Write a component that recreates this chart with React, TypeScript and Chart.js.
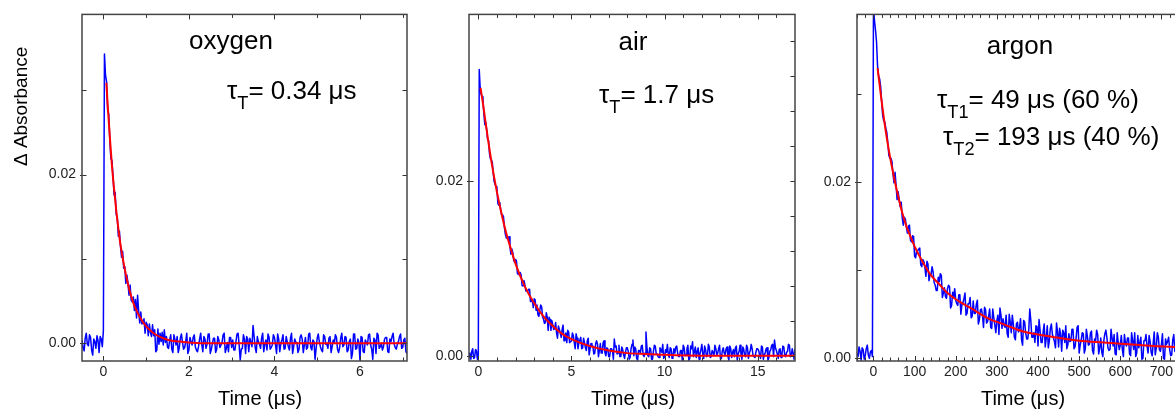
import React, { useEffect, useRef } from "react";
import { Chart, registerables } from "chart.js";

Chart.register(...registerables);

// ---------------- DATA ----------------
// Each transient is stored as samples on a grid (start + i*step) and the samples read halfway between them.

// Oxygen panel
const oxyTraceStart = -0.5;
const oxyTraceStep = 0.05;
const oxyTraceGrid = [
  0.0004, -0.0009, 0.0012, -0.0003, 0.0007, -0.0014, 0.0002, 0.0009, -0.0011, 0.0005, 0.0015,
  0.0318,
  0.0276, 0.0242, 0.0217, 0.0176, 0.0153, 0.0127, 0.0115, 0.0109, 0.0091, 0.0081,
  0.0057, 0.0051, 0.0055, 0.0052, 0.0057, 0.0024, 0.0023, 0.0029, 0.0025, 0.0009,
  0.0013, 0.0022, 0.0016, -0.0008, -0.0001, 0.0002, -0.0002, 0.0001, -0.0005,
  0.0004, -0.0007, 0.0010, -0.0002, -0.0011, 0.0006, 0.0001, -0.0005, 0.0012, -0.0008,
  0.0002, 0.0007, -0.0004, -0.0010, 0.0005, -0.0001, 0.0008, -0.0006, 0.0011, -0.0012,
  0.0000, 0.0006, -0.0007, 0.0004, -0.0002, 0.0010, -0.0011, 0.0001, 0.0007, -0.0005,
  -0.0008, 0.0002, 0.0012, -0.0020, -0.0006, 0.0005, 0.0008, -0.0010, 0.0001, 0.0021,
  -0.0005, 0.0008, -0.0001, 0.0006, -0.0010, 0.0004, 0.0011, -0.0007, -0.0002, 0.0007,
  -0.0012, 0.0005, 0.0000, 0.0010, -0.0006, 0.0002, -0.0008, 0.0012, -0.0004, 0.0001,
  -0.0011, 0.0007, 0.0005, -0.0002, -0.0007, 0.0011, -0.0005, 0.0004, -0.0019, 0.0006,
  0.0002, -0.0008, 0.0010, -0.0001, -0.0006, 0.0008, -0.0004, 0.0000, 0.0007, -0.0011,
  0.0006, -0.0004, 0.0008, -0.0010, 0.0002, -0.0018, 0.0011, -0.0007, 0.0005, -0.0020,
  0.0007, -0.0011, 0.0001, 0.0010, -0.0002, -0.0019, 0.0004, 0.0012, -0.0006, 0.0000,
  -0.0004, 0.0007, -0.0010, 0.0005, 0.0008, -0.0001, -0.0007, 0.0002, 0.0011, -0.0005,
  0.0006, -0.0012,
];
const oxyTraceHalf = [
  -0.0005, 0.0006, -0.0001, 0.0010, -0.0008, 0.0005, -0.0006, 0.0003, 0.0008, -0.0004,
  0.0343,
  0.0310, 0.0272, 0.0219, 0.0198, 0.0179, 0.0149, 0.0133, 0.0102, 0.0089, 0.0071,
  0.0071, 0.0069, 0.0049, 0.0039, 0.0030, 0.0038, 0.0037, 0.0024, 0.0012, 0.0022,
  0.0023, 0.0008, 0.0009, -0.0010, 0.0017, 0.0012, 0.0013, 0.0016, 0.0008,
  -0.0006, 0.0010, -0.0011, 0.0004, 0.0008, -0.0005, 0.0011, -0.0007, 0.0002, -0.0012,
  0.0007, -0.0002, 0.0010, -0.0008, -0.0004, 0.0012, -0.0010, 0.0005, -0.0001, 0.0011,
  -0.0007, 0.0006, -0.0011, 0.0008, -0.0005, 0.0001, 0.0012, -0.0006, -0.0010, 0.0007,
  0.0004, -0.0008, 0.0011, -0.0002, -0.0007, 0.0010, -0.0012, 0.0005, 0.0006, -0.0004,
  0.0008, -0.0011, 0.0002, -0.0006, 0.0012, -0.0001, -0.0008, 0.0007, -0.0005, 0.0010,
  -0.0002, 0.0011, -0.0010, 0.0004, -0.0007, 0.0008, -0.0004, 0.0006, -0.0012, 0.0005,
  0.0001, -0.0007, 0.0010, -0.0011, 0.0007, -0.0005, 0.0012, -0.0008, 0.0002, -0.0006,
  0.0011, -0.0004, -0.0010, 0.0008, -0.0001, 0.0006, -0.0011, 0.0004, 0.0010, -0.0007,
  -0.0005, 0.0012, -0.0002, 0.0007, -0.0008, 0.0005, -0.0012, 0.0011, -0.0006, 0.0001,
  0.0008, -0.0010, 0.0004, -0.0002, 0.0011, -0.0007, 0.0006, -0.0012, 0.0010, -0.0004,
  -0.0008, 0.0005, 0.0007, -0.0011, 0.0002, 0.0012, -0.0005, -0.0001, 0.0008, -0.0006,
  0.0004, -0.0010,
];
const oxyFitTime = [0.07, 0.1, 0.15, 0.2, 0.25, 0.3, 0.35, 0.4, 0.5, 0.6, 0.7, 0.8, 0.9, 1.0, 1.2, 1.4, 1.6, 1.8, 2.0, 2.5, 3, 4, 5, 6, 7.1];
const oxyFitValue = [0.0309, 0.0283, 0.0245, 0.0211, 0.0183, 0.0158, 0.0136, 0.0117, 0.0088, 0.0065, 0.0048, 0.0036, 0.0027, 0.0020, 0.0011, 0.0006, 0.0003, 0.0002, 0.0001, 0, 0, 0, 0, 0, 0];
const oxyXTickMarks = [0, 1, 2, 3, 4, 5, 6, 7];
const oxyXLabels = [0, 2, 4, 6];
const oxyYTickMarks = [0, 0.01, 0.02, 0.03];
const oxyYLabels = [0, 0.02];

// Air panel
const airTraceStart = -0.5;
const airTraceStep = 0.1;
const airTraceGrid = [
  0.0003, -0.0004, 0.0008, -0.0002, 0.0006, 0.0001,
  0.0306,
  0.0296, 0.0276, 0.0266, 0.0247, 0.0231, 0.0224, 0.0209, 0.0196, 0.0191, 0.0172,
  0.0167, 0.0161, 0.0147, 0.0135, 0.0134, 0.0124, 0.0122, 0.0109, 0.0110, 0.0094,
  0.0094, 0.0092, 0.0080, 0.0081, 0.0074, 0.0076, 0.0062, 0.0064, 0.0065, 0.0052,
  0.0047, 0.0052, 0.0056, 0.0042, 0.0038, 0.0044, 0.0044, 0.0029, 0.0035, 0.0031,
  0.0026, 0.0034, 0.0026, 0.0030, 0.0017, 0.0026, 0.0029, 0.0015, 0.0017, 0.0023,
  0.0008, 0.0020, 0.0015, 0.0021, 0.0009, 0.0015, 0.0006, 0.0020, 0.0008, 0.0011,
  0.0002, 0.0014, 0.0013, 0.0006, 0.0003, 0.0015, 0.0003, 0.0009, -0.0001,
  0.0008, 0.0006, 0.0019, 0.0011, 0.0003, -0.0001, 0.0010, 0.0001, 0.0004, 0.0009,
  -0.0004, 0.0008, 0.0018, 0.0010, -0.0003, 0.0006, 0.0003, 0.0012, -0.0001, 0.0027,
  0.0000, 0.0009, -0.0004, 0.0005, 0.0011, 0.0002, -0.0002, 0.0007, 0.0013, -0.0001,
  0.0004, 0.0001, 0.0009, -0.0003, 0.0008, 0.0010, 0.0003, -0.0001, 0.0006, 0.0012,
  0.0000, 0.0008, -0.0005, 0.0011, 0.0016, 0.0005, -0.0002, 0.0009, 0.0002, 0.0013,
  -0.0003, 0.0007, 0.0000, 0.0010, -0.0001, 0.0004, 0.0012, 0.0001, 0.0008, -0.0004,
  0.0006, 0.0003, 0.0008, -0.0001, 0.0011, -0.0002, 0.0007, 0.0009, -0.0005, 0.0005,
  0.0002, 0.0010, 0.0000, 0.0012, -0.0003, 0.0006, 0.0008, -0.0001, 0.0004, 0.0008,
  0.0001, 0.0011, -0.0004, 0.0003, 0.0009, -0.0002, 0.0007, 0.0013, 0.0018, 0.0006,
  -0.0003, 0.0008, 0.0002, 0.0010, -0.0001, 0.0005, 0.0012, 0.0000, 0.0003, 0.0008,
];
const airTraceHalf = [
  -0.0002, 0.0005, -0.0003, 0.0007, -0.0004,
  0.0327,
  0.0299, 0.0292, 0.0264, 0.0258, 0.0246, 0.0225, 0.0221, 0.0199, 0.0193, 0.0174,
  0.0175, 0.0161, 0.0159, 0.0139, 0.0134, 0.0136, 0.0116, 0.0118, 0.0107, 0.0108,
  0.0093, 0.0095, 0.0080, 0.0086, 0.0074, 0.0074, 0.0076, 0.0062, 0.0055, 0.0064,
  0.0058, 0.0045, 0.0058, 0.0044, 0.0037, 0.0049, 0.0029, 0.0041, 0.0040, 0.0030,
  0.0038, 0.0020, 0.0030, 0.0021, 0.0035, 0.0022, 0.0015, 0.0027, 0.0016, 0.0026,
  0.0015, 0.0025, 0.0008, 0.0018, 0.0008, 0.0020, 0.0009, 0.0017, 0.0001, 0.0014,
  0.0011, 0.0003, 0.0017, -0.0001, 0.0014, 0.0003, 0.0017, 0.0000, 0.0008,
  -0.0001, 0.0008, -0.0004, 0.0010, 0.0002, 0.0012, -0.0001, 0.0007, -0.0003, 0.0009,
  0.0005, -0.0002, 0.0013, 0.0000, 0.0008, -0.0005, 0.0006, 0.0011, 0.0001, 0.0003,
  0.0010, -0.0001, 0.0008, -0.0004, 0.0012, 0.0002, -0.0001, 0.0009, 0.0004, -0.0003,
  0.0007, 0.0013, -0.0002, 0.0008, 0.0000, 0.0003, 0.0011, -0.0001, 0.0006, -0.0005,
  0.0009, 0.0001, 0.0012, -0.0003, 0.0008, -0.0001, 0.0010, 0.0005, -0.0004, 0.0007,
  0.0002, 0.0011, -0.0001, 0.0013, -0.0002, 0.0006, 0.0000, 0.0008, 0.0003, 0.0012,
  -0.0003, 0.0009, 0.0001, 0.0010, -0.0005, 0.0008, 0.0004, -0.0001, 0.0011, 0.0002,
  0.0012, -0.0004, 0.0007, -0.0001, 0.0009, 0.0003, 0.0013, 0.0000, -0.0002, 0.0008,
  0.0006, -0.0003, 0.0010, 0.0001, 0.0008, -0.0005, 0.0005, 0.0012, -0.0001, 0.0009,
  0.0002, 0.0007, -0.0002, 0.0011, 0.0000, 0.0004, 0.0013, -0.0001, 0.0008, -0.0004,
];
const airFitTime = [0.12, 0.25, 0.5, 0.75, 1, 1.25, 1.5, 1.75, 2, 2.5, 3, 3.5, 4, 4.5, 5, 6, 7, 8, 9, 10, 12, 14, 17];
const airFitValue = [0.0306, 0.0288, 0.0250, 0.0216, 0.0187, 0.0162, 0.0140, 0.0122, 0.0105, 0.0079, 0.0060, 0.0045, 0.0034, 0.0025, 0.0019, 0.0011, 0.0006, 0.0003, 0.0002, 0.0001, 0, 0, 0];
const airXTickMarks = [0, 1, 2, 3, 4, 5, 6, 7, 8, 9, 10, 11, 12, 13, 14, 15, 16];
const airXLabels = [0, 5, 10, 15];
const airYTickMarksLeft = [0, 0.02];
const airYTickMarksRight = [0, 0.004, 0.008, 0.012, 0.016, 0.02, 0.024, 0.028, 0.032, 0.036];
const airYLabels = [0, 0.02];

// Argon panel
const argTraceStart = -40;
const argTraceStep = 5;
const argTraceGrid = [
  0.0006, 0.0013, -0.0002, 0.0010, 0.0003, 0.0015, 0.0000, 0.0009,
  0.0400,
  0.0372, 0.0331, 0.0317, 0.0291, 0.0269, 0.0261, 0.0244, 0.0227, 0.0223, 0.0199,
  0.0196, 0.0189, 0.0172, 0.0159, 0.0160, 0.0149, 0.0150, 0.0134, 0.0139, 0.0116,
  0.0122, 0.0124, 0.0106, 0.0112, 0.0103, 0.0110, 0.0088, 0.0095, 0.0098, 0.0083,
  0.0077, 0.0087, 0.0094, 0.0074, 0.0070, 0.0079, 0.0081, 0.0060, 0.0069, 0.0066,
  0.0060, 0.0072, 0.0061, 0.0068, 0.0049, 0.0062, 0.0069, 0.0048, 0.0051, 0.0061,
  0.0039, 0.0055, 0.0049, 0.0058, 0.0040, 0.0048, 0.0035, 0.0056, 0.0038, 0.0043,
  0.0027, 0.0049, 0.0045, 0.0035, 0.0028, 0.0050, 0.0029, 0.0039, 0.0021, 0.0041,
  0.0035, 0.0021, 0.0043, 0.0029, 0.0022, 0.0056, 0.0024, 0.0029, 0.0037, 0.0014,
  0.0032, 0.0018, 0.0039, 0.0023, 0.0012, 0.0034, 0.0027, 0.0019, 0.0040, 0.0013,
  0.0027, 0.0032, 0.0018, 0.0011, 0.0028, 0.0020, 0.0033, 0.0013, 0.0035, 0.0006,
  0.0021, 0.0028, 0.0011, 0.0025, 0.0016, 0.0031, 0.0005, 0.0020, 0.0027, 0.0012,
  0.0007, 0.0020, 0.0032, 0.0012, 0.0010, 0.0023, 0.0027, 0.0004, 0.0018, 0.0015,
  0.0010, 0.0027, 0.0014, 0.0023, 0.0003, 0.0020, 0.0029, 0.0006, 0.0012, 0.0024,
  0.0000, 0.0020, 0.0014, 0.0026, 0.0007, 0.0017, 0.0004, 0.0029, 0.0010, 0.0016,
  0.0000, 0.0022, 0.0019, 0.0010, 0.0004, 0.0027, 0.0007, 0.0017,
];
const argTraceHalf = [
  0.0002, 0.0008, 0.0012, -0.0001, 0.0011, 0.0004, 0.0007, 0.0002,
  0.0383, 0.0359, 0.0320, 0.0308, 0.0275, 0.0268, 0.0256, 0.0230, 0.0227, 0.0209,
  0.0211, 0.0180, 0.0180, 0.0177, 0.0151, 0.0158, 0.0142, 0.0151, 0.0132, 0.0138,
  0.0114, 0.0122, 0.0125, 0.0104, 0.0110, 0.0093, 0.0107, 0.0095, 0.0104, 0.0086,
  0.0077, 0.0092, 0.0096, 0.0069, 0.0080, 0.0068, 0.0083, 0.0057, 0.0075, 0.0079,
  0.0062, 0.0072, 0.0050, 0.0063, 0.0074, 0.0051, 0.0062, 0.0046, 0.0065, 0.0051,
  0.0066, 0.0044, 0.0056, 0.0035, 0.0055, 0.0042, 0.0056, 0.0034, 0.0046, 0.0029,
  0.0049, 0.0057, 0.0034, 0.0037, 0.0049, 0.0024, 0.0041, 0.0049, 0.0024, 0.0039,
  0.0030, 0.0045, 0.0015, 0.0041, 0.0022, 0.0032, 0.0043, 0.0024, 0.0018, 0.0036,
  0.0044, 0.0018, 0.0030, 0.0013, 0.0037, 0.0020, 0.0039, 0.0023, 0.0012, 0.0030,
  0.0034, 0.0008, 0.0029, 0.0037, 0.0015, 0.0019, 0.0033, 0.0011, 0.0023, 0.0037,
  0.0015, 0.0029, 0.0006, 0.0033, 0.0015, 0.0029, 0.0009, 0.0022, 0.0032, 0.0005,
  0.0023, 0.0002, 0.0028, 0.0023, 0.0009, 0.0033, 0.0014, 0.0005, 0.0029, 0.0010,
  0.0026, 0.0002, 0.0018, 0.0023, 0.0005, 0.0029, 0.0010, 0.0002, 0.0026, 0.0018,
  -0.0001, 0.0020, 0.0027, 0.0006, 0.0019, 0.0003, 0.0030, 0.0012, 0.0024, 0.0008,
  0.0028, -0.0001, 0.0016, 0.0024, 0.0003, 0.0021, 0.0008, 0.0026,
];
const argFitTime = [10, 20, 30, 40, 50, 60, 70, 80, 90, 100, 120, 140, 160, 180, 200, 240, 280, 320, 360, 400, 440, 500, 560, 620, 680, 740];
const argFitValue = [0.0329, 0.0291, 0.0257, 0.0229, 0.0205, 0.0184, 0.0165, 0.0150, 0.0138, 0.0127, 0.0109, 0.0094, 0.0084, 0.0074, 0.0067, 0.0056, 0.0045, 0.0038, 0.0031, 0.0027, 0.0024, 0.0020, 0.0018, 0.0016, 0.0014, 0.0013];
const argXTickMarks = [-40, -20, 0, 20, 40, 60, 80, 100, 120, 140, 160, 180, 200, 220, 240, 260, 280, 300, 320, 340, 360, 380, 400, 420, 440, 460, 480, 500, 520, 540, 560, 580, 600, 620, 640, 660, 680, 700, 720, 740];
const argXLabels = [0, 100, 200, 300, 400, 500, 600, 700];
const argYTickMarks = [0, 0.01, 0.02, 0.03];
const argYLabels = [0, 0.02];

// ---------------- RENDERING ----------------
const FONT = "Arial, 'Liberation Sans', Helvetica, sans-serif";

type Part = { t: string; sub?: boolean };
type TextItem = { parts: Part[]; dx: number; dy: number; size: number; align: "left" | "center"; rotate?: boolean };

function drawParts(ctx: CanvasRenderingContext2D, item: TextItem, x: number, y: number) {
  const subSize = item.size * 0.7;
  const widths = item.parts.map((p) => {
    ctx.font = `${p.sub ? subSize : item.size}px ${FONT}`;
    return ctx.measureText(p.t).width;
  });
  const total = widths.reduce((a, b) => a + b, 0);
  ctx.save();
  ctx.translate(x, y);
  if (item.rotate) ctx.rotate(-Math.PI / 2);
  let cx = item.align === "center" ? -total / 2 : 0;
  item.parts.forEach((p, i) => {
    ctx.font = `${p.sub ? subSize : item.size}px ${FONT}`;
    ctx.fillText(p.t, cx, p.sub ? item.size * 0.36 : 0);
    cx += widths[i];
  });
  ctx.restore();
}

const decorPlugin = {
  id: "decor",
  afterDatasetsDraw(chart: any, _args: any, o: any) {
    const { ctx, chartArea: a, scales } = chart;
    const xs = scales.x;
    const ys = scales.y;
    ctx.save();
    ctx.strokeStyle = "#333";
    ctx.lineWidth = 1;
    ctx.beginPath();
    for (const v of o.xTicks) {
      const p = Math.round(xs.getPixelForValue(v)) + 0.5;
      const len = o.xLabels.includes(v) ? 5 : 3.5;
      ctx.moveTo(p, a.bottom);
      ctx.lineTo(p, a.bottom - len);
      ctx.moveTo(p, a.top);
      ctx.lineTo(p, a.top + len);
    }
    for (const v of o.yLeft) {
      const p = Math.round(ys.getPixelForValue(v)) + 0.5;
      const major = o.yLabels.includes(v);
      ctx.moveTo(a.left - (major ? 2 : 0), p);
      ctx.lineTo(a.left + 4.5, p);
    }
    for (const v of o.yRight) {
      const p = Math.round(ys.getPixelForValue(v)) + 0.5;
      ctx.moveTo(a.right, p);
      ctx.lineTo(a.right - 4.5, p);
    }
    ctx.stroke();
    ctx.strokeStyle = "#444";
    ctx.lineWidth = 1.5;
    ctx.strokeRect(a.left, a.top, a.right - a.left, a.bottom - a.top);
    ctx.fillStyle = "#000";
    ctx.textBaseline = "alphabetic";
    ctx.textAlign = "left";
    for (const t of o.texts as TextItem[]) {
      drawParts(ctx, t, a.left + t.dx, a.top + t.dy);
    }
    ctx.restore();
  },
};

type Panel = {
  traceStart: number;
  traceStep: number;
  traceGrid: number[];
  traceHalf: number[];
  fitTime: number[];
  fitValue: number[];
  xMin: number;
  xMax: number;
  yMin: number;
  yMax: number;
  xTicks: number[];
  xLabels: number[];
  yLeft: number[];
  yRight: number[];
  yLabels: number[];
  yAxisWidth: number;
  padRight: number;
  texts: TextItem[];
};

const timeTitle = (dx: number): TextItem => ({ parts: [{ t: "Time (μs)" }], dx, dy: 391, size: 20, align: "center" });

const panels: Panel[] = [
  {
    traceStart: oxyTraceStart, traceStep: oxyTraceStep, traceGrid: oxyTraceGrid, traceHalf: oxyTraceHalf,
    fitTime: oxyFitTime, fitValue: oxyFitValue,
    xMin: -0.5, xMax: 7.1, yMin: -0.0021, yMax: 0.039,
    xTicks: oxyXTickMarks, xLabels: oxyXLabels,
    yLeft: oxyYTickMarks, yRight: oxyYTickMarks, yLabels: oxyYLabels,
    yAxisWidth: 82, padRight: 8,
    texts: [
      { parts: [{ t: "oxygen" }], dx: 149, dy: 35, size: 26, align: "center" },
      { parts: [{ t: "τ" }, { t: "T", sub: true }, { t: "= 0.34 μs" }], dx: 145, dy: 85, size: 26, align: "left" },
      timeTitle(178),
      { parts: [{ t: "Δ Absorbance" }], dx: -55, dy: 92, size: 19, align: "center", rotate: true },
    ],
  },
  {
    traceStart: airTraceStart, traceStep: airTraceStep, traceGrid: airTraceGrid, traceHalf: airTraceHalf,
    fitTime: airFitTime, fitValue: airFitValue,
    xMin: -0.5, xMax: 17, yMin: -0.0006, yMax: 0.039,
    xTicks: airXTickMarks, xLabels: airXLabels,
    yLeft: airYTickMarksLeft, yRight: airYTickMarksRight, yLabels: airYLabels,
    yAxisWidth: 54, padRight: 5,
    texts: [
      { parts: [{ t: "air" }], dx: 164, dy: 36, size: 26, align: "center" },
      { parts: [{ t: "τ" }, { t: "T", sub: true }, { t: "= 1.7 μs" }], dx: 130, dy: 89, size: 26, align: "left" },
      timeTitle(164),
    ],
  },
  {
    traceStart: argTraceStart, traceStep: argTraceStep, traceGrid: argTraceGrid, traceHalf: argTraceHalf,
    fitTime: argFitTime, fitValue: argFitValue,
    xMin: -40, xMax: 750, yMin: -0.0003, yMax: 0.039,
    xTicks: argXTickMarks, xLabels: argXLabels,
    yLeft: argYTickMarks, yRight: [], yLabels: argYLabels,
    yAxisWidth: 57, padRight: 8,
    texts: [
      { parts: [{ t: "argon" }], dx: 163, dy: 40, size: 26, align: "center" },
      { parts: [{ t: "τ" }, { t: "T1", sub: true }, { t: "= 49 μs (60 %)" }], dx: 80, dy: 94, size: 26, align: "left" },
      { parts: [{ t: "τ" }, { t: "T2", sub: true }, { t: "= 193 μs (40 %)" }], dx: 86, dy: 131, size: 26, align: "left" },
      timeTitle(166),
    ],
  },
];

function buildTrace(p: Panel) {
  const pts: { x: number; y: number }[] = [];
  p.traceGrid.forEach((v, i) => {
    const t = p.traceStart + i * p.traceStep;
    pts.push({ x: +t.toFixed(4), y: v });
    if (i < p.traceHalf.length) pts.push({ x: +(t + p.traceStep / 2).toFixed(4), y: p.traceHalf[i] });
  });
  return pts;
}

function makeConfig(p: Panel): any {
  const traceData = buildTrace(p);
  const fitData = p.fitTime.map((t, i) => ({ x: t, y: p.fitValue[i] }));
  return {
    type: "line",
    data: {
      datasets: [
        {
          data: fitData,
          borderColor: "#ff0000",
          borderWidth: 2,
          pointRadius: 0,
          cubicInterpolationMode: "monotone",
          fill: false,
        },
        {
          data: traceData,
          borderColor: "#0000ff",
          borderWidth: 1.5,
          borderJoinStyle: "round",
          pointRadius: 0,
          tension: 0,
          fill: false,
        },
      ],
    },
    options: {
      responsive: false,
      animation: false,
      devicePixelRatio: 1,
      events: [],
      layout: { padding: { left: 0, top: 13, right: p.padRight, bottom: 0 } },
      plugins: {
        legend: { display: false },
        tooltip: { enabled: false },
        decor: {
          xTicks: p.xTicks,
          xLabels: p.xLabels,
          yLeft: p.yLeft,
          yRight: p.yRight,
          yLabels: p.yLabels,
          texts: p.texts,
        },
      },
      scales: {
        x: {
          type: "linear",
          min: p.xMin,
          max: p.xMax,
          afterFit: (s: any) => { s.height = 50; },
          afterBuildTicks: (s: any) => { s.ticks = p.xLabels.map((v) => ({ value: v })); },
          ticks: {
            autoSkip: false,
            maxRotation: 0,
            padding: 3,
            color: "#222",
            font: { family: FONT, size: 14 },
            callback: (v: any) => String(v),
          },
          grid: { display: false, drawTicks: false },
          border: { display: false },
        },
        y: {
          type: "linear",
          min: p.yMin,
          max: p.yMax,
          afterFit: (s: any) => { s.width = p.yAxisWidth; },
          afterBuildTicks: (s: any) => { s.ticks = p.yLabels.map((v) => ({ value: v })); },
          ticks: {
            autoSkip: false,
            padding: 6,
            color: "#222",
            font: { family: FONT, size: 14 },
            callback: (v: any) => Number(v).toFixed(2),
          },
          grid: { display: false, drawTicks: false },
          border: { display: false },
        },
      },
    },
    plugins: [decorPlugin],
  };
}

const canvasBoxes = [
  { left: 0, width: 415 },
  { left: 415, width: 385 },
  { left: 800, width: 390 },
];

export default function App() {
  const r0 = useRef<HTMLCanvasElement>(null);
  const r1 = useRef<HTMLCanvasElement>(null);
  const r2 = useRef<HTMLCanvasElement>(null);
  const refs = [r0, r1, r2];

  useEffect(() => {
    const charts = panels.map((p, i) => new Chart(refs[i].current as HTMLCanvasElement, makeConfig(p)));
    return () => charts.forEach((c) => c.destroy());
  }, []);

  return (
    <div style={{ position: "absolute", left: 0, top: 0, width: 1175, height: 411, overflow: "hidden", background: "#fff" }}>
      {canvasBoxes.map((b, i) => (
        <canvas
          key={i}
          ref={refs[i]}
          width={b.width}
          height={411}
          style={{ position: "absolute", left: b.left, top: 0, width: b.width, height: 411 }}
        />
      ))}
    </div>
  );
}
